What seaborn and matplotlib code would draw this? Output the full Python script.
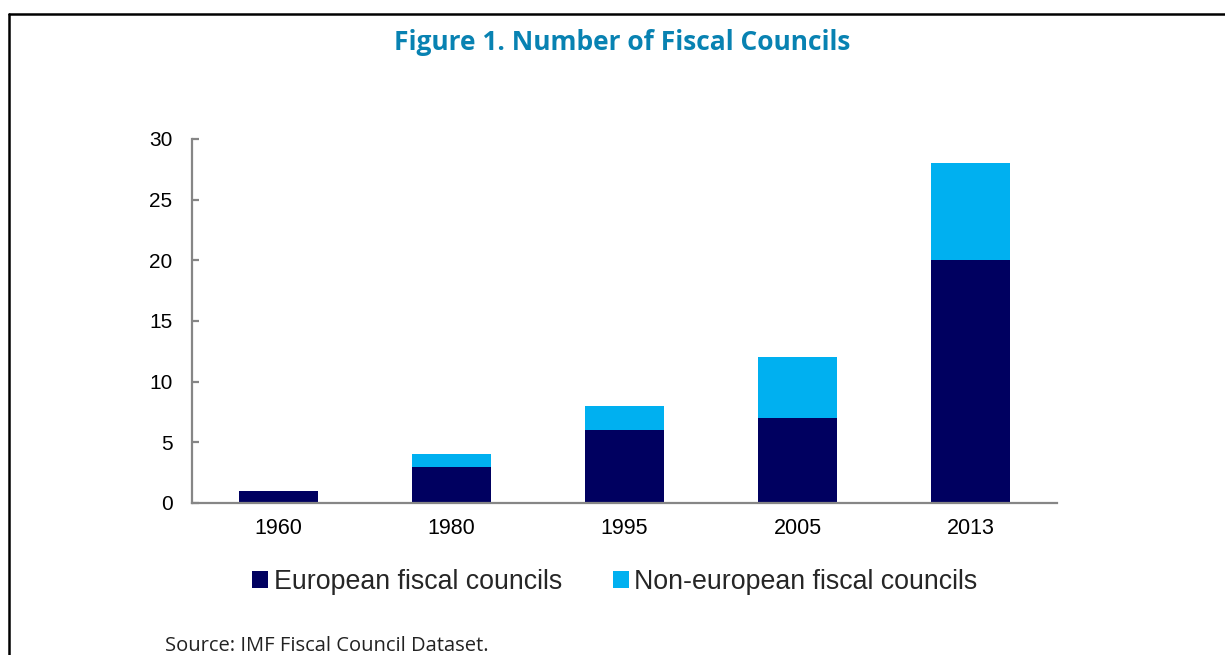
import matplotlib
matplotlib.use("Agg")
import matplotlib.pyplot as plt
import seaborn as sns
import pandas as pd
from matplotlib.lines import Line2D
from matplotlib.patches import Patch

years = ["1960", "1980", "1995", "2005", "2013"]
european = [1, 3, 6, 7, 20]
non_european = [0, 1, 2, 5, 8]
series_labels = ["European fiscal councils", "Non-european fiscal councils"]
title = "Figure 1. Number of Fiscal Councils"
source = "Source: IMF Fiscal Council Dataset."

navy = "#000060"
light = "#00B0F0"
gray = "#868686"

sns.set_theme(style="white")
plt.rcParams["font.family"] = ["Liberation Sans", "DejaVu Sans"]

df = pd.DataFrame({"year": years, "eu": european, "non": non_european})
df["total"] = df["eu"] + df["non"]

W, H = 1225, 655
fig = plt.figure(figsize=(W / 100, H / 100), dpi=100)
ax = fig.add_axes([192 / W, 1 - 503 / H, (1057 - 192) / W, (503 - 139) / H])

sns.barplot(data=df, x="year", y="total", color=light, width=0.46, ax=ax,
            saturation=1, edgecolor="none")
sns.barplot(data=df, x="year", y="eu", color=navy, width=0.46, ax=ax,
            saturation=1, edgecolor="none")

ax.set_ylim(0, 30)
ax.set_yticks([0, 5, 10, 15, 20, 25, 30])
ax.set_xlabel("")
ax.set_ylabel("")
for s in ["top", "right"]:
    ax.spines[s].set_visible(False)
for s in ["left", "bottom"]:
    ax.spines[s].set_color(gray)
    ax.spines[s].set_linewidth(1.6)
ax.tick_params(axis="y", which="major", direction="in", length=5, width=1.6,
               color=gray, labelsize=15, pad=14, left=True)
ax.tick_params(axis="x", length=0, labelsize=15.5, pad=11)
for lab in ax.get_xticklabels() + ax.get_yticklabels():
    lab.set_color("black")

handles = [Patch(facecolor=navy, edgecolor="none"), Patch(facecolor=light, edgecolor="none")]
leg = fig.legend(handles, series_labels, loc="center", bbox_to_anchor=(615 / W, 1 - 582 / H),
                 ncol=2, frameon=False, fontsize=19.3, handlelength=0.6, handleheight=0.6,
                 handletextpad=0.2, columnspacing=1.9, borderpad=0)

fig.text(622 / W, 1 - 42 / H, title, ha="center", va="center", fontsize=19,
         fontweight="bold", color="#0882B2", family=["Open Sans", "DejaVu Sans"])
fig.text(165 / W, 1 - 646 / H, source, ha="left", va="center", fontsize=14.5,
         color="#222222", family=["Open Sans", "DejaVu Sans"])

fig.add_artist(Line2D([8.5 / W, 8.5 / W], [0, 1 - 13.5 / H], color="black", lw=1.8,
                      transform=fig.transFigure))
fig.add_artist(Line2D([8.5 / W, 1], [1 - 13.5 / H, 1 - 13.5 / H], color="black", lw=1.8,
                      transform=fig.transFigure))

fig.savefig("out.png", dpi=100)
